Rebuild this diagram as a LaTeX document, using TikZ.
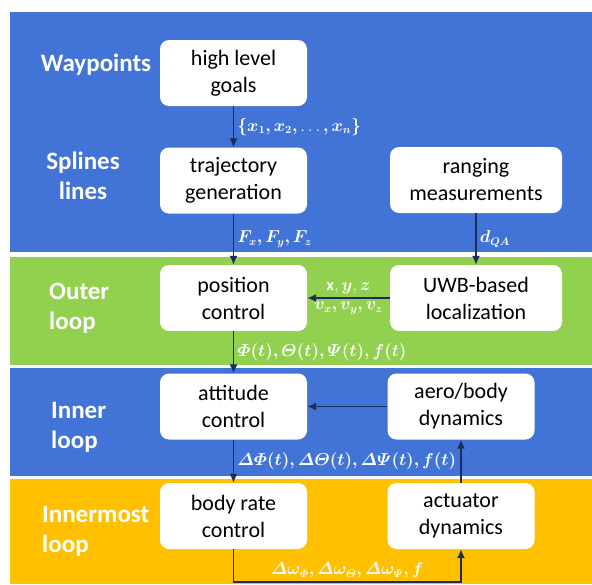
\documentclass[tikz,border=0pt]{standalone}
\usepackage{fontspec}
\setmainfont{Carlito}
\usepackage{amsmath,bm}
\usetikzlibrary{arrows.meta}
\definecolor{bandblue}{RGB}{66,115,214}
\definecolor{bandgreen}{RGB}{146,208,80}
\definecolor{bandyellow}{RGB}{255,192,0}
\definecolor{arrownavy}{RGB}{28,45,90}
\begin{document}
\begin{tikzpicture}[x=1pt,y=-1pt,
  block/.style={fill=white,rounded corners=9pt,align=center,inner sep=0pt,
    minimum width=147pt,minimum height=66pt,font=\fontsize{22}{27}\selectfont},
  looplabel/.style={text=white,font=\bfseries\fontsize{25}{30}\selectfont,align=left,inner sep=0pt},
  flow/.style={draw=arrownavy,line width=1.6pt,-{Latex[length=9pt,width=8pt]}},
  siglabel/.style={text=white,font=\fontsize{16}{20}\selectfont,inner sep=3pt}]
  \useasboundingbox (0,0) rectangle (592,584);
  \fill[bandblue] (10,12) rectangle (592,252);
  \fill[bandgreen] (10,257) rectangle (592,365);
  \fill[bandblue] (10,368) rectangle (592,476);
  \fill[bandyellow] (10,479) rectangle (592,584);

  \node[looplabel] (wp) at (96,65) {Waypoints};
  \node[looplabel,align=center] (spl) at (83,176) {Splines\\lines};
  \node[looplabel,anchor=west] (outer) at (49,308) {Outer\\loop};
  \node[looplabel,anchor=west] (inner) at (51,427) {Inner\\loop};
  \node[looplabel,anchor=west] (innermost) at (42,531) {Innermost\\loop};

  \node[block] (goals) at (233.5,73) {high level\\goals};
  \node[block] (traj) at (233.5,180.5) {trajectory\\generation};
  \node[block,minimum width=172pt] (rang) at (476,180) {ranging\\measurements};
  \node[block] (pos) at (233.5,298) {position\\control};
  \node[block,minimum width=172pt] (uwb) at (476,298) {UWB-based\\localization};
  \node[block] (att) at (233.5,406.5) {attitude\\control};
  \node[block] (aero) at (461,406.5) {aero/body\\dynamics};
  \node[block] (rate) at (233.5,516) {body rate\\control};
  \node[block] (act) at (461,516) {actuator\\dynamics};
  \coordinate (loopbot) at (0,582);

  \draw[flow] (goals) -- node[siglabel,right] {$\bm{\{x_1,x_2,}\ldots\bm{,x_n\}}$} (traj);
  \draw[flow] (traj) -- node[siglabel,right] {$\bm{F_x,F_y,F_z}$} (pos);
  \draw[flow] (rang) -- node[siglabel,right] {$\bm{d_{QA}}$} (uwb);
  \draw[flow] (uwb) -- node[siglabel,above] {$\mathbf{x},\bm{y},\bm{z}$}
    node[siglabel,below] {$\bm{v_x,v_y,v_z}$} (pos);
  \draw[flow] (pos) -- node[siglabel,right] {$\bm{\varPhi(t),\varTheta(t),\varPsi(t),f(t)}$} (att);
  \draw[flow] (aero) -- (att);
  \draw[flow] (att) -- node[siglabel,right] {$\bm{\varDelta\varPhi(t),\varDelta\varTheta(t),\varDelta\varPsi(t),f(t)}$} (rate);
  \draw[flow] (act) -- (aero);
  \draw[flow] (rate) -- (rate.south |- loopbot) -| node[siglabel,above,pos=0.25]
    {$\bm{\varDelta\omega_{\varPhi},\varDelta\omega_{\varTheta},\varDelta\omega_{\varPsi},f}$} (act);
\end{tikzpicture}
\end{document}
